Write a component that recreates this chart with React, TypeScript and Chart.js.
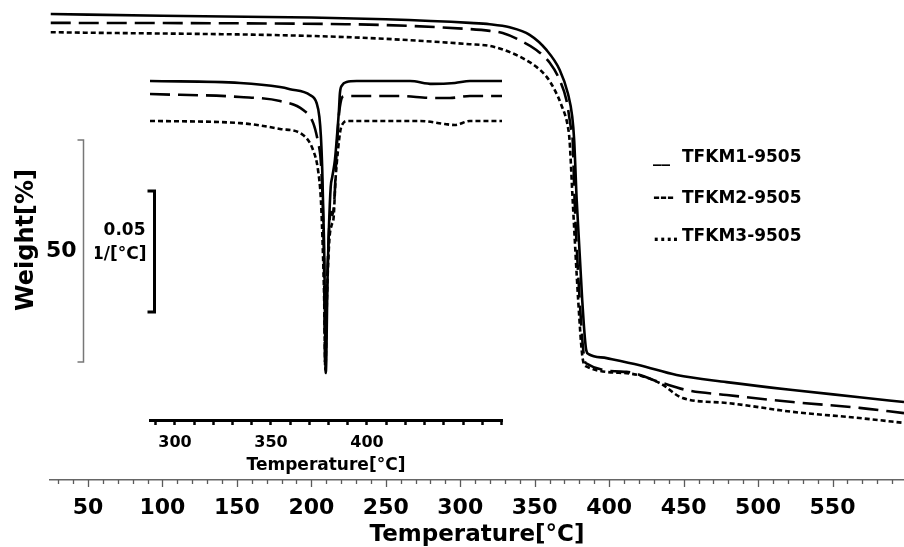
import React, { useEffect, useRef } from 'react';
import { Chart, registerables } from 'chart.js';

Chart.register(...registerables);

// ---------- data ----------
const seriesNames = ['TFKM1-9505', 'TFKM2-9505', 'TFKM3-9505'];
const legendMarks = ['__', '---', '....'];

// Main TGA curves (temperature °C, weight %)
const tgaTemp1 = [25, 100, 200, 250, 306.4, 319.8, 333.2, 346.6, 357.9, 366.8, 372.3, 375.2, 376.5, 378.2, 381.9, 384.6, 386.2, 398.3, 420.5, 445.3, 478.9, 523.2, 568.1, 598];
const tgaWeight1 = [100, 99.6, 99.2, 98.8, 98.0, 97.7, 97.0, 95.3, 91.9, 87.4, 82.1, 76.9, 71.6, 58.1, 35.6, 24.3, 23.4, 22.5, 20.9, 18.7, 17.1, 15.3, 13.7, 12.6];

const tgaTemp2 = [25, 223, 306.4, 319.8, 328.5, 339.9, 351.1, 360.1, 366.8, 371.3, 374.2, 375.5, 376.8, 380.2, 382.6, 384.2, 411.7, 433.9, 452, 478.9, 523.2, 568.1, 598];
const tgaWeight2 = [98.0, 97.7, 96.6, 96.2, 95.7, 94.1, 91.9, 89.0, 85.1, 80.6, 74.6, 71.6, 58.1, 35.6, 24.3, 21.4, 19.4, 17.1, 15.3, 14.2, 12.6, 11.3, 10.1];

const tgaTemp3 = [25, 223, 306.4, 319.8, 331.0, 342.2, 351.1, 357.9, 363.4, 367.9, 372.3, 373.4, 375.5, 379.2, 381.9, 384.2, 411.7, 433.9, 449.3, 478.9, 523.2, 568.1, 598];
const tgaWeight3 = [95.9, 94.8, 93.2, 92.8, 91.7, 90.0, 88.1, 85.9, 82.9, 79.5, 74.6, 71.6, 58.1, 35.6, 23.2, 20.7, 19.1, 16.9, 13.5, 12.4, 10.4, 9.0, 7.9];

// Inset DTG curves (temperature °C, 1/°C, offset baselines as drawn)
const dtgTemp1 = [287, 333.9, 354.7, 359.9, 370.3, 373.8, 375.2, 376.0, 376.7, 377.2, 377.8, 378.1, 378.5, 378.8, 379.3, 380.2, 381.1, 381.9, 383.3, 384.5, 385.4, 385.9, 387.1, 389.4, 394.6, 422.4, 433.9, 445.8, 453.6, 470.3];
const dtgValue1 = [0, -0.0008, -0.0025, -0.0034, -0.0058, -0.0092, -0.0148, -0.023, -0.0368, -0.0533, -0.074, -0.095, -0.1207, -0.1153, -0.0876, -0.0603, -0.0438, -0.0397, -0.0326, -0.0215, -0.012, -0.005, -0.0017, -0.0004, 0, 0, -0.0012, -0.0008, 0, 0];

const dtgTemp2 = [287, 333.9, 354.7, 366.8, 372.0, 374.6, 375.9, 376.9, 377.6, 378.2, 379.0, 380.0, 381.1, 382.0, 383.0, 384.2, 385.4, 386.5, 387.6, 390, 417.2, 433.9, 443.2, 453.6, 470.3];
const dtgValue2 = [-0.0054, -0.0066, -0.0083, -0.012, -0.0174, -0.0256, -0.0326, -0.0492, -0.074, -0.1174, -0.0905, -0.0657, -0.0541, -0.0554, -0.0492, -0.0285, -0.014, -0.0079, -0.0064, -0.0062, -0.0062, -0.007, -0.007, -0.0062, -0.0062];

const dtgTemp3 = [287, 333.9, 354.7, 366.7, 371.9, 374.5, 376.0, 377.0, 377.7, 378.3, 379.2, 380.4, 381.6, 382.6, 383.6, 384.9, 386.2, 387.6, 389.6, 427.6, 440.6, 445.8, 453.6, 470.3];
const dtgValue3 = [-0.0165, -0.0174, -0.0198, -0.0223, -0.0285, -0.0368, -0.0492, -0.0698, -0.0905, -0.1194, -0.0884, -0.0657, -0.0595, -0.0566, -0.0409, -0.0285, -0.0202, -0.0174, -0.0165, -0.0165, -0.0178, -0.0182, -0.0165, -0.0165];

// Axis tick labels
const mainTickLabels = [50, 100, 150, 200, 250, 300, 350, 400, 450, 500, 550];
const insetTickLabels = [300, 350, 400];

// Scale bars (value ranges + labels)
const weightBar = [21.6, 71.6];
const weightBarLabel = '50';
const dtgBar = [-0.0955, -0.0455];
const dtgBarLabels = ['0.05', '1/[°C]'];

const mainXTitle = 'Temperature[°C]';
const mainYTitle = 'Weight[%]';
const insetXTitle = 'Temperature[°C]';

// ---------- styling ----------
const FONT = '"DejaVu Sans", Verdana, sans-serif';
const dashes = [[], [20, 8], [5, 3]];

const pts = (xs: number[], ys: number[]) => xs.map((x, i) => ({ x, y: ys[i] }));

const lineDs = (label: string, xs: number[], ys: number[], i: number) => ({
  label,
  data: pts(xs, ys),
  borderColor: '#000',
  backgroundColor: '#000',
  borderWidth: 2.6,
  borderDash: dashes[i],
  pointRadius: 0,
  fill: false,
  cubicInterpolationMode: 'monotone' as const,
});

const mainDecor = {
  id: 'mainDecor',
  afterDraw(chart: any) {
    const { ctx, chartArea, scales } = chart;
    const xs = scales.x;
    const ys = scales.y;
    ctx.save();
    // tick marks (major every 50, minor every 10)
    ctx.strokeStyle = '#5a5a5a';
    ctx.lineWidth = 1.3;
    const start = Math.ceil(xs.min / 10) * 10;
    for (let v = start; v <= xs.max; v += 10) {
      const px = Math.round(xs.getPixelForValue(v)) + 0.5;
      const len = v % 50 === 0 ? 7 : 4;
      ctx.beginPath();
      ctx.moveTo(px, xs.top);
      ctx.lineTo(px, xs.top + len);
      ctx.stroke();
    }
    // weight scale bar
    const bx = chartArea.left + 33.5;
    const yTop = ys.getPixelForValue(weightBar[1]);
    const yBot = ys.getPixelForValue(weightBar[0]);
    ctx.strokeStyle = '#777';
    ctx.lineWidth = 1.5;
    ctx.beginPath();
    ctx.moveTo(bx - 6, yTop);
    ctx.lineTo(bx, yTop);
    ctx.lineTo(bx, yBot);
    ctx.lineTo(bx - 6, yBot);
    ctx.stroke();
    ctx.fillStyle = '#000';
    ctx.font = `bold 22px ${FONT}`;
    ctx.textAlign = 'right';
    ctx.textBaseline = 'middle';
    ctx.fillText(weightBarLabel, bx - 7, (yTop + yBot) / 2);
    // legend
    ctx.font = `bold 17px ${FONT}`;
    ctx.textAlign = 'left';
    const legendY = [158, 199, 237];
    seriesNames.forEach((name, i) => {
      ctx.fillText(legendMarks[i], 653, legendY[i]);
      ctx.fillText(name, 682, legendY[i]);
    });
    ctx.restore();
  },
};

const insetDecor = {
  id: 'insetDecor',
  afterDraw(chart: any) {
    const { ctx, chartArea, scales } = chart;
    const ys = scales.y;
    const bx = chartArea.left + 4.5;
    const yTop = ys.getPixelForValue(dtgBar[1]);
    const yBot = ys.getPixelForValue(dtgBar[0]);
    ctx.save();
    ctx.strokeStyle = '#000';
    ctx.lineWidth = 3;
    ctx.beginPath();
    ctx.moveTo(bx - 7, yTop);
    ctx.lineTo(bx, yTop);
    ctx.lineTo(bx, yBot);
    ctx.lineTo(bx - 7, yBot);
    ctx.stroke();
    ctx.fillStyle = '#000';
    ctx.font = `bold 17px ${FONT}`;
    ctx.textAlign = 'right';
    ctx.textBaseline = 'middle';
    ctx.fillText(dtgBarLabels[0], bx - 9, yTop + 39);
    ctx.fillText(dtgBarLabels[1], bx - 8, yTop + 63);
    ctx.restore();
  },
};

export default function App() {
  const mainRef = useRef<HTMLCanvasElement>(null);
  const insetRef = useRef<HTMLCanvasElement>(null);

  useEffect(() => {
    const main = new Chart(mainRef.current as HTMLCanvasElement, {
      type: 'line',
      data: {
        datasets: [
          lineDs(seriesNames[0], tgaTemp1, tgaWeight1, 0),
          lineDs(seriesNames[1], tgaTemp2, tgaWeight2, 1),
          lineDs(seriesNames[2], tgaTemp3, tgaWeight3, 2),
        ],
      },
      options: {
        responsive: false,
        animation: false,
        layout: { padding: { left: 0, right: 0, top: 0, bottom: 0 } },
        plugins: { legend: { display: false }, tooltip: { enabled: false } },
        scales: {
          x: {
            type: 'linear',
            min: 24.5,
            max: 598,
            afterBuildTicks: (axis: any) => {
              axis.ticks = mainTickLabels.map((v) => ({ value: v }));
            },
            afterFit: (axis: any) => {
              axis.height = 67;
            },
            grid: { display: false, drawTicks: false },
            border: { display: true, color: '#666', width: 1.5 },
            ticks: {
              autoSkip: false,
              maxRotation: 0,
              padding: 15,
              color: '#000',
              font: { family: FONT, size: 22, weight: 'bold' },
              callback: (v: any) => String(v),
            },
            title: {
              display: true,
              text: mainXTitle,
              color: '#000',
              font: { family: FONT, size: 23, weight: 'bold', lineHeight: 1 },
              padding: { top: 0, bottom: 0 },
            },
          },
          y: {
            type: 'linear',
            min: -4.95,
            max: 103.15,
            afterFit: (axis: any) => {
              axis.width = 50;
            },
            grid: { display: false, drawTicks: false },
            border: { display: false },
            ticks: { display: false },
            title: {
              display: true,
              text: mainYTitle,
              color: '#000',
              font: { family: FONT, size: 24, weight: 'bold', lineHeight: 1 },
              padding: { top: 15, bottom: 0 },
            },
          },
        },
      } as any,
      plugins: [mainDecor],
    });

    const inset = new Chart(insetRef.current as HTMLCanvasElement, {
      type: 'line',
      data: {
        datasets: [
          lineDs(seriesNames[0], dtgTemp1, dtgValue1, 0),
          lineDs(seriesNames[1], dtgTemp2, dtgValue2, 1),
          lineDs(seriesNames[2], dtgTemp3, dtgValue3, 2),
        ],
      },
      options: {
        responsive: false,
        animation: false,
        layout: { padding: { left: 55, right: 8, top: 5, bottom: 0 } },
        plugins: { legend: { display: false }, tooltip: { enabled: false } },
        scales: {
          x: {
            type: 'linear',
            min: 287,
            max: 470.3,
            afterBuildTicks: (axis: any) => {
              const t = [];
              for (let v = Math.ceil(axis.min / 10) * 10; v <= axis.max; v += 10) t.push({ value: v });
              axis.ticks = t;
            },
            afterFit: (axis: any) => {
              axis.height = 60;
            },
            grid: {
              display: true,
              drawOnChartArea: false,
              drawTicks: true,
              tickLength: 5,
              tickWidth: 2.5,
              tickColor: '#000',
            },
            border: { display: true, color: '#000', width: 3 },
            ticks: {
              autoSkip: false,
              maxRotation: 0,
              padding: 8,
              color: '#000',
              font: { family: FONT, size: 16, weight: 'bold' },
              callback: (v: any) => (insetTickLabels.includes(Number(v)) ? String(v) : ''),
            },
            title: {
              display: true,
              text: insetXTitle,
              color: '#000',
              font: { family: FONT, size: 17, weight: 'bold', lineHeight: 1 },
              padding: { top: 0, bottom: 6 },
            },
          },
          y: {
            type: 'linear',
            display: false,
            min: -0.1401,
            max: 0.00868,
          },
        },
      } as any,
      plugins: [insetDecor],
    });

    return () => {
      main.destroy();
      inset.destroy();
    };
  }, []);

  return (
    <div style={{ position: 'fixed', left: 0, top: 0, width: 904, height: 547, background: '#fff' }}>
      <canvas ref={mainRef} width={904} height={547} style={{ position: 'absolute', left: 0, top: 0 }} />
      <canvas ref={insetRef} width={415} height={425} style={{ position: 'absolute', left: 95, top: 55 }} />
    </div>
  );
}
